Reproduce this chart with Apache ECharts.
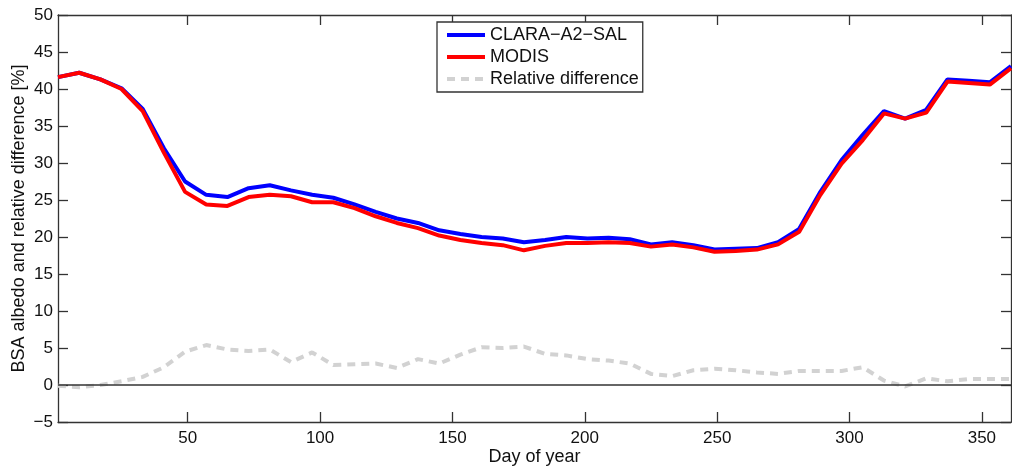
<!DOCTYPE html>
<html>
<head>
<meta charset="utf-8">
<script src="https://cdn.jsdelivr.net/npm/echarts@6/dist/echarts.min.js"></script>
<style>
html,body{margin:0;padding:0;background:#fff;}
#chart{width:1012px;height:468px;}
</style>
</head>
<body>
<div id="chart"></div>
<script>
const days = [1, 9, 17, 25, 33, 41, 49, 57, 65, 73, 81, 89, 97, 105, 113, 121, 129, 137, 145, 153, 161, 169, 177, 185, 193, 201, 209, 217, 225, 233, 241, 249, 257, 265, 273, 281, 289, 297, 305, 313, 321, 329, 337, 345, 353, 361];
const clara = [41.6, 42.2, 41.3, 40.1, 37.3, 32.0, 27.5, 25.7, 25.4, 26.6, 27.0, 26.3, 25.7, 25.3, 24.4, 23.4, 22.5, 21.9, 20.9, 20.4, 20.0, 19.8, 19.3, 19.6, 20.0, 19.8, 19.9, 19.7, 19.0, 19.3, 18.9, 18.3, 18.4, 18.5, 19.3, 21.1, 26.1, 30.4, 33.8, 37.0, 36.0, 37.2, 41.3, 41.1, 40.9, 43.1];
const modis = [41.6, 42.2, 41.3, 40.0, 37.0, 31.4, 26.1, 24.4, 24.2, 25.4, 25.7, 25.5, 24.7, 24.7, 23.9, 22.8, 21.9, 21.2, 20.2, 19.6, 19.2, 18.9, 18.2, 18.8, 19.2, 19.2, 19.3, 19.2, 18.7, 19.0, 18.6, 18.0, 18.1, 18.3, 19.0, 20.7, 25.7, 29.9, 33.1, 36.7, 36.0, 36.8, 41.0, 40.8, 40.6, 42.8];
const reldiff = [-0.1, -0.3, 0.0, 0.5, 1.1, 2.4, 4.5, 5.4, 4.8, 4.6, 4.8, 3.1, 4.4, 2.7, 2.8, 2.9, 2.3, 3.5, 2.9, 4.1, 5.1, 5.0, 5.2, 4.2, 4.0, 3.5, 3.3, 2.9, 1.5, 1.2, 2.0, 2.2, 2.0, 1.7, 1.5, 1.9, 1.9, 1.9, 2.4, 0.6, -0.2, 0.9, 0.5, 0.8, 0.8, 0.8];
const xTicks = [50, 100, 150, 200, 250, 300, 350];
const seriesNames = ['CLARA\u2212A2\u2212SAL', 'MODIS', 'Relative difference'];
const xName = 'Day of year';
const yName = 'BSA albedo and relative difference [%]';

const FONT = 'Liberation Sans, Arial, Helvetica, sans-serif';
const AX = '#333';
const TXT = '#111';
const pair = arr => days.map((d, i) => [d, arr[i]]);

const chart = echarts.init(document.getElementById('chart'), null, {renderer: 'canvas'});
const axisCommon = {
  axisLine: {show: true, onZero: false, lineStyle: {color: AX, width: 1.3}},
  axisTick: {show: true, inside: true, length: 10, lineStyle: {color: AX, width: 1.3}},
  splitLine: {show: false}
};
chart.setOption({
  animation: false,
  backgroundColor: '#fff',
  textStyle: {fontFamily: FONT},
  grid: {left: 58, top: 15, right: 1, bottom: 46, containLabel: false, outerBoundsMode: 'none'},
  legend: {
    show: true, orient: 'vertical', left: 437, top: 22,
    padding: [4, 4, 4, 8], itemGap: 4, itemWidth: 38, itemHeight: 14,
    itemStyle: {opacity: 0},
    lineStyle: {width: 4},
    backgroundColor: '#fff', borderColor: AX, borderWidth: 1.3, borderRadius: 0,
    textStyle: {fontFamily: FONT, fontSize: 18, color: TXT, lineHeight: 18},
    data: seriesNames
  },
  xAxis: [
    Object.assign({}, axisCommon, {
      type: 'value', min: 1, max: 361, position: 'bottom',
      name: xName, nameLocation: 'middle', nameGap: 26, nameMoveOverlap: false,
      nameTextStyle: {fontFamily: FONT, fontSize: 18, color: TXT},
      axisTick: {show: true, inside: true, length: 10, customValues: xTicks, lineStyle: {color: AX, width: 1.3}},
      axisLabel: {show: true, customValues: xTicks, margin: 8, fontFamily: FONT, fontSize: 17, color: TXT}
    }),
    Object.assign({}, axisCommon, {
      type: 'value', min: 1, max: 361, position: 'top',
      axisTick: {show: true, inside: true, length: 10, customValues: xTicks, lineStyle: {color: AX, width: 1.3}},
      axisLabel: {show: false}
    })
  ],
  yAxis: [
    Object.assign({}, axisCommon, {
      type: 'value', min: -5, max: 50, interval: 5, position: 'left',
      name: yName, nameLocation: 'middle', nameGap: 30, nameMoveOverlap: false,
      nameTextStyle: {fontFamily: FONT, fontSize: 18, color: TXT},
      axisLabel: {show: true, margin: 5, fontFamily: FONT, fontSize: 17, color: TXT,
        formatter: v => String(v).replace('-', '\u2212')}
    }),
    Object.assign({}, axisCommon, {
      type: 'value', min: -5, max: 50, interval: 5, position: 'right',
      axisLabel: {show: false}
    })
  ],
  series: [
    {
      name: seriesNames[0], type: 'line', data: pair(clara), symbol: 'none',
      lineStyle: {color: '#0000ff', width: 4}, itemStyle: {color: '#0000ff'}, z: 3
    },
    {
      name: seriesNames[1], type: 'line', data: pair(modis), symbol: 'none',
      lineStyle: {color: '#ff0000', width: 4}, itemStyle: {color: '#ff0000'}, z: 4
    },
    {
      name: seriesNames[2], type: 'line', data: pair(reldiff), symbol: 'none',
      lineStyle: {color: '#d2d2d2', width: 4, type: [8, 6]}, itemStyle: {color: '#d2d2d2'}, z: 2,
      markLine: {
        silent: true, symbol: 'none', label: {show: false},
        lineStyle: {color: AX, width: 1.5, type: 'solid'},
        data: [{yAxis: 0}]
      }
    }
  ]
});
</script>
</body>
</html>
